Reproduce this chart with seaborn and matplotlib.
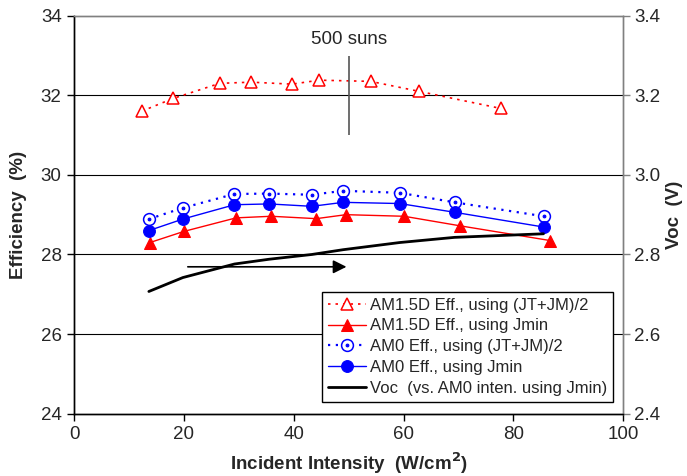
import numpy as np
import pandas as pd
import matplotlib
matplotlib.use("Agg")
import matplotlib.pyplot as plt
import seaborn as sns

# values
x_am15_avg = [12.3, 18.0, 26.5, 32.2, 39.7, 44.6, 54.0, 62.8, 77.7]
eff_am15_avg = [31.60, 31.92, 32.30, 32.33, 32.28, 32.38, 32.35, 32.10, 31.67]

x_am15_min = [13.8, 20.0, 29.5, 35.9, 44.1, 49.5, 60.1, 70.3, 86.7]
eff_am15_min = [28.30, 28.58, 28.92, 28.96, 28.90, 29.00, 28.96, 28.72, 28.35]

x_am0 = [13.6, 19.8, 29.2, 35.5, 43.3, 49.0, 59.3, 69.3, 85.5]
eff_am0_avg = [28.89, 29.17, 29.52, 29.53, 29.50, 29.60, 29.55, 29.31, 28.96]
eff_am0_min = [28.60, 28.89, 29.25, 29.27, 29.21, 29.31, 29.28, 29.06, 28.69]
voc = [2.707, 2.742, 2.776, 2.788, 2.800, 2.812, 2.830, 2.843, 2.852]

labels = ["AM1.5D Eff., using (JT+JM)/2",
          "AM1.5D Eff., using Jmin",
          "AM0 Eff., using (JT+JM)/2",
          "AM0 Eff., using Jmin",
          "Voc  (vs. AM0 inten. using Jmin)"]

suns_x = 50
suns_span = (31.0, 33.0)
arrow_from = (20.7, 27.69)
arrow_to = (49.6, 27.69)

sns.set_theme(style="white")
plt.rcParams['font.family'] = ['Liberation Sans', 'DejaVu Sans']
plt.rcParams['font.size'] = 13.5

fig = plt.figure(figsize=(6.87, 4.76), dpi=100)
ax = fig.add_axes([0.108, 0.131, 0.799, 0.836])
ax2 = ax.twinx()

red = "#FF0000"
blue = "#0000FF"

df1 = pd.DataFrame({"x": x_am15_avg, "y": eff_am15_avg})
df2 = pd.DataFrame({"x": x_am15_min, "y": eff_am15_min})
df3 = pd.DataFrame({"x": x_am0, "y": eff_am0_avg})
df4 = pd.DataFrame({"x": x_am0, "y": eff_am0_min})
df5 = pd.DataFrame({"x": x_am0, "y": voc})

sns.lineplot(data=df1, x="x", y="y", ax=ax, color=red, lw=1.2, ls=(0, (1.5, 3)),
             marker="^", markersize=9, markerfacecolor="white",
             markeredgecolor=red, markeredgewidth=1.1, sort=False, legend=False)
sns.lineplot(data=df2, x="x", y="y", ax=ax, color=red, lw=1.0,
             marker="^", markersize=8.5, markerfacecolor=red,
             markeredgecolor=red, sort=False, legend=False)
sns.lineplot(data=df3, x="x", y="y", ax=ax, color=blue, lw=1.6, ls=(0, (1, 2.5)),
             marker="o", markersize=8.5, markerfacecolor="white",
             markeredgecolor=blue, markeredgewidth=1.1, sort=False, legend=False)
sns.lineplot(data=df3, x="x", y="y", ax=ax, color=blue, lw=0,
             marker="o", markersize=2, markerfacecolor=blue,
             markeredgecolor=blue, sort=False, legend=False)
sns.lineplot(data=df4, x="x", y="y", ax=ax, color=blue, lw=1.0,
             marker="o", markersize=8.5, markerfacecolor=blue,
             markeredgecolor=blue, sort=False, legend=False)
sns.lineplot(data=df5, x="x", y="y", ax=ax2, color="black", lw=2.0,
             sort=False, legend=False)

lines = ax.get_lines()
h_tri_open, h_tri, h_circ_open, h_dot, h_circ = lines[:5]
h_voc = ax2.get_lines()[0]

# axes ranges
ax.set_xlim(0, 100)
ax.set_ylim(24, 34)
ax2.set_ylim(2.4, 3.4)
ax.set_xticks(np.arange(0, 101, 20))
ax.set_yticks(np.arange(24, 35, 2))
ax2.set_yticks(np.arange(2.4, 3.41, 0.2))
ax2.set_yticklabels([f"{v:.1f}" for v in np.arange(2.4, 3.41, 0.2)])

for yv in [26, 28, 30, 32]:
    ax.axhline(yv, color="black", lw=0.8, zorder=0)

ax.set_xlabel("Incident Intensity  (W/cm$^\\mathbf{2}$)", fontweight="bold",
              fontsize=13.5, labelpad=5)
ax.set_ylabel("Efficiency  (%)", fontweight="bold", fontsize=13.5, labelpad=10)
ax2.set_ylabel("Voc  (V)", fontweight="bold", fontsize=13.5, labelpad=4)

for a in (ax, ax2):
    a.spines["left"].set_color("black")
    a.spines["bottom"].set_color("black")
    a.spines["top"].set_color("#808080")
    a.spines["right"].set_color("#808080")
    for s in a.spines.values():
        s.set_linewidth(1.0)
ax.tick_params(axis="both", which="major", direction="out", length=5,
               width=1, color="black", labelsize=13.5, pad=4,
               left=True, bottom=True)
ax2.tick_params(axis="y", direction="out", length=5, width=1,
                color="#808080", labelsize=13.5, right=True, pad=3)

# 500 suns marker
ax.vlines(suns_x, suns_span[0], suns_span[1], color="#555555", lw=1.2)
ax.text(suns_x, 33.4, "500 suns", ha="center", va="center", fontsize=13.5)

# arrow pointing to the Voc axis
ax.annotate("", xy=arrow_to, xytext=arrow_from,
            arrowprops=dict(arrowstyle="-|>", color="black", lw=1.2,
                            mutation_scale=20, shrinkA=0, shrinkB=0))

leg = ax2.legend([h_tri_open, h_tri, (h_circ_open, h_dot), h_circ, h_voc], labels,
                 loc="lower left", bbox_to_anchor=(0.452, 0.03),
                 borderaxespad=0, fontsize=12, frameon=True, fancybox=False,
                 edgecolor="black", framealpha=1, handlelength=2.3,
                 labelspacing=0.35, borderpad=0.35, handletextpad=0.2)
leg.get_frame().set_linewidth(1.0)

fig.savefig("out.png", dpi=100)
